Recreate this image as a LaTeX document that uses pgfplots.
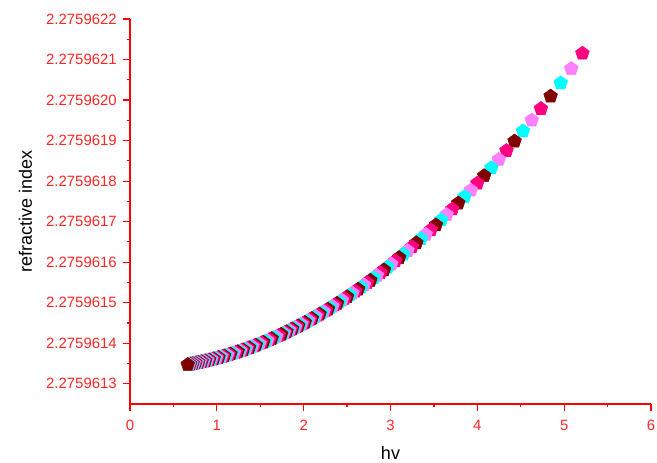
\documentclass[border=0pt]{standalone}
\usepackage{fontspec}
\setmainfont{Liberation Sans}
\usepackage{pgfplots}
\usepackage{pgfplotstable}
\pgfplotsset{compat=1.18}
\definecolor{cpink}{RGB}{255,0,128}
\definecolor{cviolet}{RGB}{255,128,255}
\definecolor{ccyan}{RGB}{0,255,255}
\definecolor{cmaroon}{RGB}{128,0,0}
\definecolor{axred}{RGB}{255,0,0}
% y = (refractive index - 2.2759613) * 1e7 ; c = colour class
\pgfplotstableread{
x y c
5.2101 8.152 0
5.0820 7.773 1
4.9600 7.420 2
4.8438 7.093 3
4.7328 6.787 0
4.6269 6.502 1
4.5255 6.235 2
4.4286 5.985 3
4.3357 5.751 0
4.2466 5.532 1
4.1611 5.325 2
4.0789 5.130 3
4.0000 4.947 0
3.9241 4.774 1
3.8509 4.610 2
3.7805 4.455 3
3.7126 4.309 0
3.6471 4.170 1
3.5838 4.039 2
3.5227 3.914 3
3.4637 3.795 0
3.4066 3.683 1
3.3514 3.575 2
3.2979 3.473 3
3.2461 3.375 0
3.1959 3.283 1
3.1472 3.194 2
3.1000 3.109 3
3.0542 3.028 0
3.0097 2.950 1
2.9665 2.876 2
2.9245 2.805 3
2.8837 2.737 0
2.8440 2.671 1
2.8054 2.608 2
2.7679 2.548 3
2.7313 2.491 0
2.6957 2.435 1
2.6609 2.381 2
2.6271 2.330 3
2.5941 2.280 0
2.5620 2.233 1
2.5306 2.187 2
2.5000 2.143 3
2.4701 2.100 0
2.4409 2.059 1
2.4125 2.019 2
2.3846 1.980 3
2.3574 1.943 0
2.3308 1.908 1
2.3048 1.873 2
2.2794 1.839 3
2.2545 1.807 0
2.2302 1.776 1
2.2064 1.745 2
2.1831 1.716 3
2.1603 1.687 0
2.1379 1.660 1
2.1160 1.633 2
2.0946 1.607 3
2.0736 1.582 0
2.0530 1.557 1
2.0328 1.533 2
2.0130 1.510 3
1.9936 1.488 0
1.9745 1.466 1
1.9558 1.445 2
1.9375 1.425 3
1.9195 1.405 0
1.9018 1.385 1
1.8845 1.366 2
1.8675 1.348 3
1.8507 1.330 0
1.8343 1.313 1
1.8182 1.296 2
1.8023 1.279 3
1.7867 1.263 0
1.7714 1.247 1
1.7564 1.232 2
1.7416 1.217 3
1.7127 1.189 0
1.6848 1.161 1
1.6578 1.135 2
1.6316 1.111 3
1.6062 1.087 0
1.5816 1.064 1
1.5578 1.043 2
1.5347 1.022 3
1.5122 1.003 0
1.4904 0.984 1
1.4692 0.966 2
1.4486 0.949 3
1.4286 0.932 0
1.4091 0.916 1
1.3901 0.901 2
1.3717 0.886 3
1.3537 0.872 0
1.3362 0.858 1
1.3191 0.845 2
1.3025 0.833 3
1.2863 0.821 0
1.2705 0.809 1
1.2551 0.798 2
1.2400 0.787 3
1.2181 0.772 0
1.1969 0.757 1
1.1765 0.743 2
1.1567 0.730 3
1.1376 0.717 0
1.1191 0.705 1
1.1012 0.694 2
1.0839 0.683 3
1.0671 0.673 0
1.0508 0.663 1
1.0351 0.653 2
1.0197 0.644 3
1.0049 0.635 0
0.9904 0.627 1
0.9764 0.619 2
0.9627 0.612 3
0.9495 0.604 0
0.9366 0.597 1
0.9240 0.591 2
0.9118 0.584 3
0.8999 0.578 0
0.8883 0.572 1
0.8769 0.566 2
0.8659 0.561 3
0.8552 0.555 0
0.8447 0.550 1
0.8345 0.545 2
0.8245 0.541 3
0.8147 0.536 0
0.8052 0.531 1
0.7959 0.527 2
0.7868 0.523 3
0.7779 0.519 0
0.7692 0.515 1
0.7607 0.511 2
0.7524 0.508 3
0.7443 0.504 0
0.7363 0.501 1
0.7286 0.498 2
0.7209 0.494 3
0.7135 0.491 0
0.7062 0.488 1
0.6990 0.486 2
0.6920 0.483 3
0.6851 0.480 0
0.6783 0.477 1
0.6717 0.475 2
0.6652 0.472 3
}\datatable
\begin{document}
\begin{tikzpicture}
\begin{axis}[
  scale only axis,
  width=390.75pt, height=288.75pt,
  xmin=0, xmax=6, ymin=-0.5, ymax=9,
  axis x line=bottom, axis y line=left,
  axis line style={-, draw=axred, line width=1pt},
  xtick={0,1,2,3,4,5,6},
  ytick={0,1,2,3,4,5,6,7,8,9},
  yticklabels={2.2759613,2.2759614,2.2759615,2.2759616,2.2759617,2.2759618,2.2759619,2.2759620,2.2759621,2.2759622},
  minor x tick num=1, minor y tick num=1,
  tick align=outside,
  xtick pos=bottom, ytick pos=left,
  major tick length=5.25pt, minor tick length=2.6pt,
  tick style={draw=axred, line width=0.9pt},
  /pgf/number format/assume math mode=true,
  tick label style={font=\fontsize{11.2}{13}\selectfont, text=axred!85!white},
  yticklabel style={anchor=east, inner sep=0pt, xshift=-4.5pt},
  xticklabel style={anchor=north, inner sep=0pt, yshift=-6.75pt},
  xlabel={hv}, ylabel={refractive index},
  label style={font=\fontsize{13.5}{16}\selectfont, text=black},
  xlabel style={at={(axis description cs:0.5,-0.127)}, anchor=center},
  ylabel style={at={(axis description cs:-0.2006,0.5)}, anchor=center, rotate=0},
  clip=false,
]
\addplot[
  scatter, only marks,
  scatter src=explicit symbolic,
  scatter/classes={
    0={mark=pentagon*, mark size=5.4pt, draw=cpink, fill=cpink},
    1={mark=pentagon*, mark size=5.4pt, draw=cviolet, fill=cviolet},
    2={mark=pentagon*, mark size=5.4pt, draw=ccyan, fill=ccyan},
    3={mark=pentagon*, mark size=5.4pt, draw=cmaroon, fill=cmaroon}},
] table[x=x, y=y, meta=c] {\datatable};
\coordinate (ll) at (rel axis cs:0,0);
\coordinate (ur) at (rel axis cs:1,1);
\end{axis}
\pgfresetboundingbox
\path ([shift={(-97.5pt,-44.25pt)}]ll) rectangle ([shift={(4.5pt,14.25pt)}]ur);
\end{tikzpicture}
\end{document}
